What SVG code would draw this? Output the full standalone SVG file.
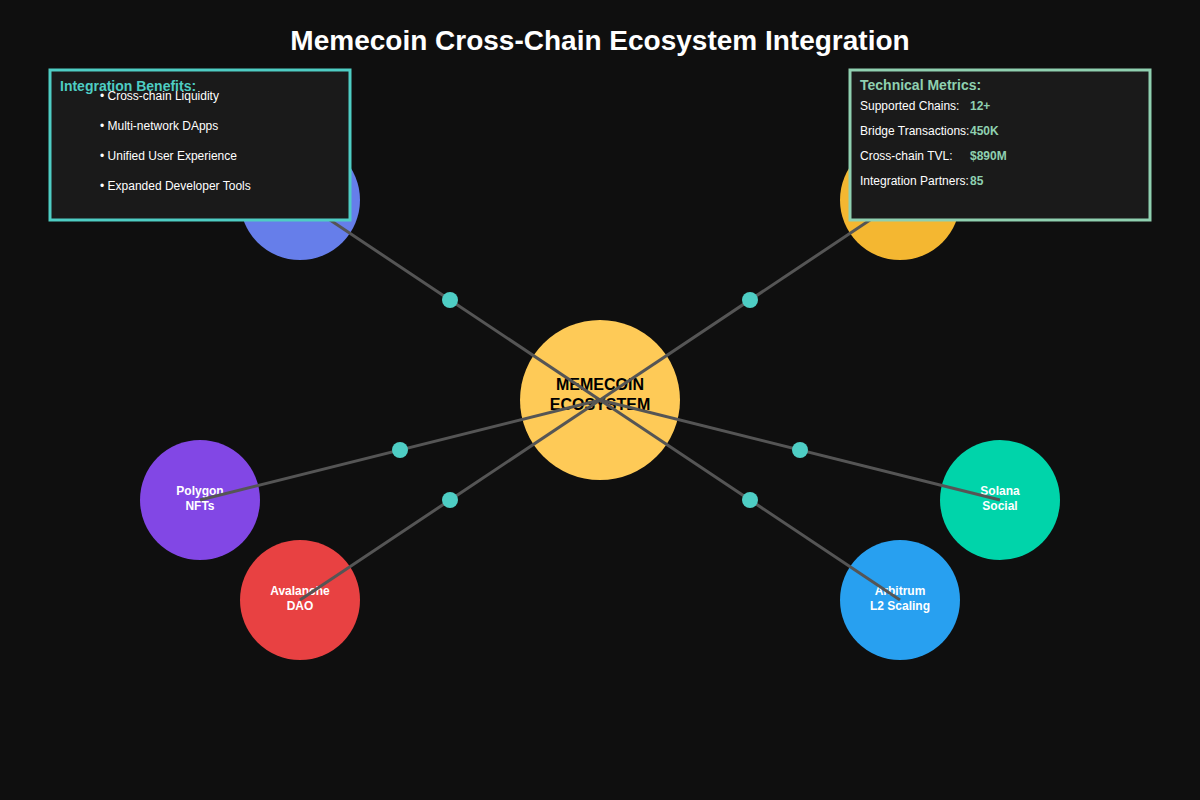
<svg xmlns="http://www.w3.org/2000/svg" width="1200" height="800" viewBox="0 0 1200 800">
<style>
text{font-family:"Liberation Sans",Arial,sans-serif}
.title{font-size:28px;font-weight:bold;fill:#ffffff}
.nl{font-size:12px;font-weight:bold;fill:#ffffff;text-anchor:middle}
.cl{font-size:16px;font-weight:bold;fill:#000000;text-anchor:middle}
.conn{stroke:#555555;stroke-width:3;fill:none}
.dot{fill:#4ecdc4}
.bh{font-size:14px;font-weight:bold}
.bt{font-size:12px;fill:#ffffff}
.mv{font-size:12px;font-weight:bold;fill:#8fd0b0}
</style>
<rect x="0" y="0" width="1200" height="800" fill="#0f0f0f"/>
<text class="title" x="600" y="50" text-anchor="middle">Memecoin Cross-Chain Ecosystem Integration</text>
<g id="center"><circle cx="600" cy="400" r="80" fill="#feca57"/><text class="cl" x="600" y="390">MEMECOIN</text><text class="cl" x="600" y="410">ECOSYSTEM</text></g>
<g id="node-topleft"><circle cx="300" cy="200" r="60" fill="#667eea"/></g>
<g id="node-topright"><circle cx="900" cy="200" r="60" fill="#f4b731"/></g>
<g id="node-polygon"><circle cx="200" cy="500" r="60" fill="#8247e5"/><text class="nl" x="200" y="495">Polygon</text><text class="nl" x="200" y="510">NFTs</text></g>
<g id="node-avalanche"><circle cx="300" cy="600" r="60" fill="#e84142"/><text class="nl" x="300" y="595">Avalanche</text><text class="nl" x="300" y="610">DAO</text></g>
<g id="node-solana"><circle cx="1000" cy="500" r="60" fill="#00d4aa"/><text class="nl" x="1000" y="495">Solana</text><text class="nl" x="1000" y="510">Social</text></g>
<g id="node-arbitrum"><circle cx="900" cy="600" r="60" fill="#28a0f0"/><text class="nl" x="900" y="595">Arbitrum</text><text class="nl" x="900" y="610">L2 Scaling</text></g>
<g id="connectors">
<line class="conn" x1="600" y1="400" x2="300" y2="200"/>
<line class="conn" x1="600" y1="400" x2="900" y2="200"/>
<line class="conn" x1="600" y1="400" x2="200" y2="500"/>
<line class="conn" x1="600" y1="400" x2="300" y2="600"/>
<line class="conn" x1="600" y1="400" x2="1000" y2="500"/>
<line class="conn" x1="600" y1="400" x2="900" y2="600"/>
<circle class="dot" cx="450" cy="300" r="8"/>
<circle class="dot" cx="750" cy="300" r="8"/>
<circle class="dot" cx="400" cy="450" r="8"/>
<circle class="dot" cx="450" cy="500" r="8"/>
<circle class="dot" cx="800" cy="450" r="8"/>
<circle class="dot" cx="750" cy="500" r="8"/>
</g>
<g id="benefits">
<rect x="50" y="70" width="300" height="150" fill="#1a1a1a" stroke="#4ecdc4" stroke-width="3"/>
<text class="bh" x="60" y="91" fill="#4ecdc4">Integration Benefits:</text>
<text class="bt" x="100" y="100">• Cross-chain Liquidity</text>
<text class="bt" x="100" y="130">• Multi-network DApps</text>
<text class="bt" x="100" y="160">• Unified User Experience</text>
<text class="bt" x="100" y="190">• Expanded Developer Tools</text>
</g>
<g id="metrics">
<rect x="850" y="70" width="300" height="150" fill="#1a1a1a" stroke="#8fd0b0" stroke-width="3"/>
<text class="bh" x="860" y="90" fill="#8fd0b0">Technical Metrics:</text>
<text class="bt" x="860" y="110">Supported Chains:</text><text class="mv" x="970" y="110">12+</text>
<text class="bt" x="860" y="135">Bridge Transactions:</text><text class="mv" x="970" y="135">450K</text>
<text class="bt" x="860" y="160">Cross-chain TVL:</text><text class="mv" x="970" y="160">$890M</text>
<text class="bt" x="860" y="185">Integration Partners:</text><text class="mv" x="970" y="185">85</text>
</g>
</svg>
